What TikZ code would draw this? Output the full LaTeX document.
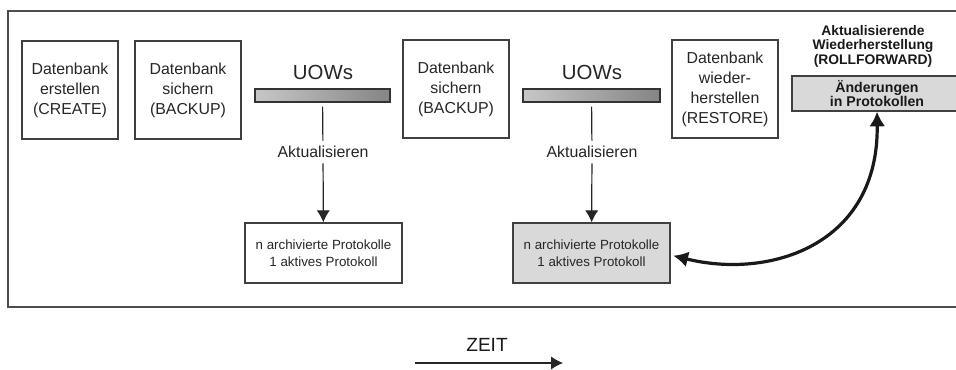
\documentclass[tikz,border=0pt]{standalone}
\usepackage{fontspec}
\setmainfont{Liberation Sans}
\usetikzlibrary{arrows.meta, positioning}

\tikzset{
  dbbox/.style={draw=black!75, line width=1pt, align=center, text=black!85,
    minimum width=#1, minimum height=73.5pt, inner sep=0pt,
    font=\fontsize{11.9}{15}\selectfont},
  uowbar/.style={draw=black!80, line width=1pt, left color=black!22, right color=black!48,
    minimum width=#1, minimum height=9.75pt, inner sep=0pt},
  uowtext/.style={font=\fontsize{15.3}{18}\selectfont, text=black!85},
  akttext/.style={font=\fontsize{11.9}{15}\selectfont, text=black!85, fill=white, inner sep=4pt},
  logbox/.style={draw=black!75, line width=1pt, align=center, text=black!85,
    minimum width=117.75pt, minimum height=45pt, inner sep=0pt,
    font=\fontsize{10}{13}\selectfont},
  updarrow/.style={draw=black!85, line width=0.9pt, -{Latex[length=9pt, width=10pt]}},
  rollarrow/.style={draw=black!90, line width=2.4pt, {Latex[length=11pt, width=12pt]}-{Latex[length=11pt, width=12pt]}}
}

\begin{document}
\begin{tikzpicture}[x=0.75pt, y=-0.75pt]
    \path[use as bounding box, clip] (0,0) rectangle (956,369);
    % Rahmen
    \draw[draw=black!70, line width=1.2pt] (8,11) rectangle (990,307);

    \node[dbbox=72pt] (create) at (70,90) {Datenbank\\erstellen\\(CREATE)};
    \node[dbbox=79.5pt] (backup1) at (188,90) {Datenbank\\sichern\\(BACKUP)};
    \node[dbbox=79.5pt] (backup2) at (456,89) {Datenbank\\sichern\\(BACKUP)};
    \node[dbbox=79.5pt] (restore) at (725,89) {Datenbank\\wieder-\\herstellen\\(RESTORE)};

    \node[uowtext] (uows1) at (323,72) {UOWs};
    \node[uowbar=101.25pt] (bar1) at (322.5,95.5) {};
    \node[uowtext] (uows2) at (592,72) {UOWs};
    \node[uowbar=102.75pt] (bar2) at (591.5,95.5) {};

    \node[akttext] (akt1) at (323,152) {Aktualisieren};
    \node[akttext] (akt2) at (592,152) {Aktualisieren};

    \node[logbox] (log1) at (323.5,253) {n archivierte Protokolle\\1 aktives Protokoll};
    \node[logbox, fill=black!15] (log2) at (591.5,253) {n archivierte Protokolle\\1 aktives Protokoll};

    \node[align=center, text=black!90, font=\bfseries\fontsize{10.4}{10.9}\selectfont] (rftitle) at (873,46)
        {Aktualisierende\\Wiederherstellung\\(ROLLFORWARD)};
    \node[draw=black!75, line width=1pt, fill=black!15, align=center, text=black!90,
        minimum width=127.5pt, minimum height=26.25pt, inner sep=0pt,
        font=\bfseries\fontsize{10.6}{11.2}\selectfont] (aend) at (877,93.5) {Änderungen\\in Protokollen};

    \draw[draw=black!85, line width=0.9pt, shorten <=3pt] (bar1) -- (akt1);
    \draw[updarrow] (akt1) -- (log1);
    \draw[draw=black!85, line width=0.9pt, shorten <=3pt] (bar2) -- (akt2);
    \draw[updarrow] (akt2) -- (log2);

    \draw[rollarrow] ([yshift=-2pt, xshift=2pt]log2.east) .. controls +(97,24) and +(2,133) .. (aend.south);

    % Zeitachse
    \node[font=\fontsize{14.3}{16}\selectfont, text=black!90] (zeit) at (487,345) {ZEIT};
    \coordinate (zeitA) at (415,363);
    \coordinate (zeitB) at (563,363);
    \draw[updarrow] (zeitA) -- (zeitB);
\end{tikzpicture}
\end{document}
